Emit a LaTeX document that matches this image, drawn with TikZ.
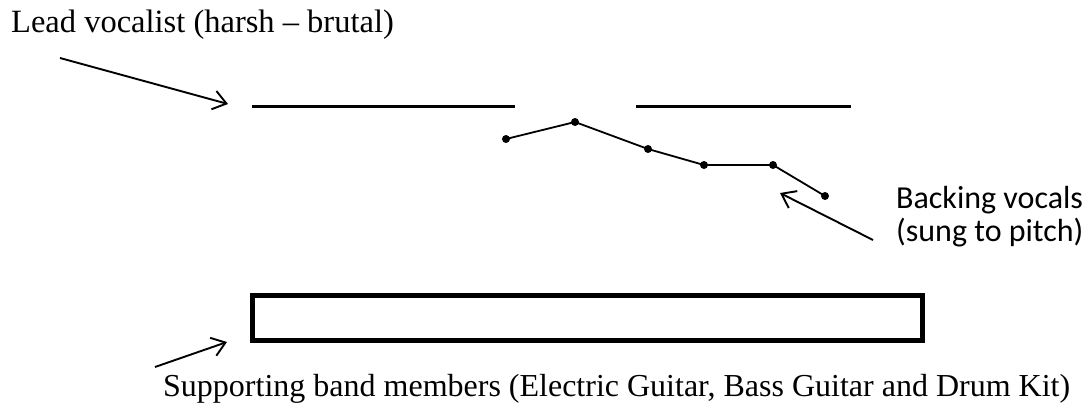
\documentclass[tikz,border=0pt]{standalone}
\usepackage{fontspec}
\setmainfont{Liberation Serif}
\newfontfamily\calfont{Carlito}
\usetikzlibrary{arrows.meta}
\begin{document}
\begin{tikzpicture}[x=1pt,y=-1pt,
  serif/.style={font=\fontsize{32.5}{36}\selectfont, inner sep=0pt, anchor=base west},
  sans/.style={font=\calfont\fontsize{32}{33}\selectfont, inner sep=0pt, anchor=north west, align=left},
  pointer/.style={line width=1.9pt, -{Straight Barb[length=13pt,width=19pt,line width=1.9pt]}},
  voice/.style={line width=3pt},
  melody/.style={line width=1.8pt},
  dot/.style={circle, fill=black, inner sep=0pt, minimum size=8pt}]
\useasboundingbox (0,0) rectangle (1086,407);
% texts
\node[serif] (lead) at (11,32) {Lead vocalist (harsh -- brutal)};
\node[sans] (back) at (896,186) {Backing vocals\\(sung to pitch)};
\node[serif, font=\fontsize{32}{36}\selectfont] (band) at (163,396) {Supporting band members (Electric Guitar, Bass Guitar and Drum Kit)};
% lead lines
\coordinate (l1a) at (252,106);
\coordinate (l1b) at (515,106);
\coordinate (l2a) at (636,106);
\coordinate (l2b) at (851,106);
\draw[voice] (l1a) -- (l1b);
\draw[voice] (l2a) -- (l2b);
% melody
\node[dot] (m1) at (506,139) {};
\node[dot] (m2) at (575,122) {};
\node[dot] (m3) at (648,149) {};
\node[dot] (m4) at (704,165) {};
\node[dot] (m5) at (773,165) {};
\node[dot] (m6) at (825,196) {};
\draw[melody] (m1.center) -- (m2.center) -- (m3.center) -- (m4.center) -- (m5.center) -- (m6.center);
% rectangle
\node[draw, line width=5pt, minimum width=670pt, minimum height=45pt, inner sep=0pt] (box) at (587.5,318) {};
% arrows
\coordinate (a1s) at (60,58);
\coordinate (a1e) at (228,104);
\draw[pointer] (a1s) -- (a1e);
\coordinate (a2s) at (873,240);
\coordinate (a2e) at (780,193);
\draw[pointer] (a2s) -- (a2e);
\coordinate (a3s) at (155,367);
\coordinate (a3e) at (227,342);
\draw[pointer] (a3s) -- (a3e);
\end{tikzpicture}
\end{document}
